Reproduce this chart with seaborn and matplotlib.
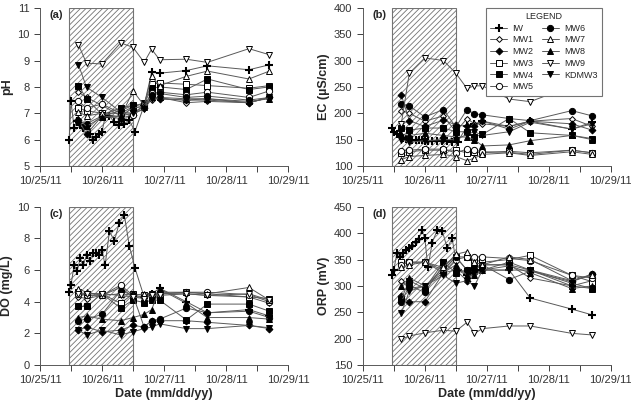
import pandas as pd
import matplotlib
matplotlib.use("Agg")
import matplotlib.pyplot as plt
import matplotlib.dates as mdates
import seaborn as sns

# sampling times in days after 10/25/11 00:00
t_iw = [0.47, 0.50, 0.55, 0.60, 0.65, 0.70, 0.75, 0.80, 0.85, 0.90, 0.95, 1.00, 1.05,
        1.12, 1.20, 1.28, 1.36, 1.44, 1.53, 1.68, 1.80, 1.93, 2.36, 2.70, 3.37, 3.70]
t_mw = [0.62, 0.75, 1.00, 1.30, 1.50, 1.68, 1.80, 1.93, 2.36, 2.70, 3.37, 3.70]

# injection period (hatched box)
inj_start, inj_end = 0.47, 1.50

wells = ["IW", "MW1", "MW2", "MW3", "MW4", "MW5", "MW6", "MW7", "MW8", "MW9", "KDMW3"]

# pH
ph = {
    "IW": [6.0, 7.45, 6.45, 6.7, 6.55, 6.45, 6.5, 6.2, 6.0, 6.1, 6.2, 6.3, 6.85,
           6.9, 6.65, 6.55, 6.6, 6.75, 6.3, 7.3, 8.55, 8.52, 8.62, 8.8, 8.65, 8.84],
    "MW1": [7.8, 7.6, 7.3, 6.9, 7.0, 7.3, 7.5, 7.6, 7.4, 7.45, 7.4, 7.6],
    "MW2": [6.75, 6.2, 6.9, 6.8, 6.95, 7.2, 7.6, 7.55, 7.5, 7.55, 7.4, 7.6],
    "MW3": [7.2, 7.1, 7.0, 7.0, 7.25, 7.4, 8.1, 8.15, 8.1, 8.05, 7.95, 8.05],
    "MW4": [8.05, 7.55, 6.95, 7.2, 7.3, 7.35, 7.95, 8.0, 7.9, 8.3, 7.9, 8.0],
    "MW5": [7.45, 7.2, 7.35, 7.0, 6.95, 7.3, 7.75, 7.8, 7.7, 7.8, 7.6, 7.85],
    "MW6": [6.7, 6.6, 6.9, 7.1, 7.3, 7.25, 7.7, 7.75, 7.6, 7.65, 7.5, 7.6],
    "MW7": [7.05, 6.9, 7.0, 6.85, 7.85, 7.3, 8.4, 8.05, 8.4, 8.6, 8.3, 8.6],
    "MW8": [6.8, 6.5, 6.85, 6.9, 7.2, 7.25, 7.6, 7.6, 7.55, 7.55, 7.45, 7.55],
    "MW9": [9.6, 8.9, 8.87, 9.67, 9.5, 8.93, 9.43, 9.03, 9.05, 8.93, 9.45, 9.22],
    "KDMW3": [8.84, 7.99, 7.6, 7.05, 7.0, 7.15, 7.55, 7.55, 7.5, 7.5, 7.4, 7.6],
}

# EC (uS/cm)
ec = {
    "IW": [172, 165, 160, 156, 153, 152, 151, 150, 150, 149, 149, 148, 148,
           147, 147, 148, 147, 146, 146, 175, 180, 185, 175, 185, 170, 183],
    "MW1": [205, 200, 185, 195, 165, 190, 180, 180, 175, 185, 190, 175],
    "MW2": [235, 186, 175, 187, 178, 175, 175, 185, 170, 185, 180, 168],
    "MW3": [125, 127, 130, 130, 130, 125, 127, 125, 128, 125, 130, 125],
    "MW4": [172, 168, 172, 172, 165, 165, 155, 160, 190, 163, 158, 152],
    "MW5": [128, 130, 132, 132, 125, 132, 130, 127, 126, 122, 130, 125],
    "MW6": [218, 214, 193, 207, 174, 207, 199, 197, 190, 186, 205, 195],
    "MW7": [112, 118, 120, 122, 118, 110, 115, 122, 125, 120, 127, 122],
    "MW8": [160, 158, 162, 158, 155, 155, 150, 138, 140, 148, 158, 150],
    "MW9": [180, 276, 305, 300, 276, 247, 252, 252, 227, 222, 252, 252],
    "KDMW3": [150, 145, 148, 150, 150, 160, 165, 158, 165, 183, 170, 180],
}

# DO (mg/L)
do = {
    "IW": [4.6, 5.05, 6.3, 5.95, 6.75, 6.3, 6.95, 6.6, 7.05, 7.1, 6.95, 7.3, 6.3,
           8.45, 7.85, 9.0, 9.47, 7.55, 6.15, 4.3, 4.5, 4.85, 4.0, 3.3, 3.5, 3.1],
    "MW1": [4.3, 4.2, 4.4, 4.9, 4.3, 4.3, 4.4, 4.5, 4.5, 4.4, 4.3, 3.9],
    "MW2": [2.2, 2.4, 2.1, 2.2, 2.5, 2.4, 2.8, 2.8, 2.8, 2.7, 2.5, 2.3],
    "MW3": [4.6, 4.5, 4.5, 3.9, 4.5, 4.4, 4.5, 4.5, 4.6, 4.5, 4.3, 4.2],
    "MW4": [3.7, 3.7, 4.5, 3.6, 4.1, 3.95, 4.1, 4.1, 2.85, 3.85, 3.85, 3.4],
    "MW5": [4.5, 4.4, 4.4, 5.05, 4.4, 4.3, 4.5, 4.6, 4.6, 4.6, 4.45, 4.0],
    "MW6": [2.8, 2.9, 3.2, 4.7, 4.4, 2.4, 2.8, 2.9, 3.6, 3.3, 3.4, 3.0],
    "MW7": [4.8, 4.6, 4.4, 4.5, 4.4, 4.5, 4.5, 4.5, 4.6, 4.5, 4.9, 4.1],
    "MW8": [3.0, 3.1, 2.9, 2.8, 3.0, 3.2, 3.5, 4.8, 3.9, 3.0, 3.0, 2.9],
    "MW9": [4.5, 4.5, 4.5, 4.4, 4.3, 4.2, 4.4, 4.4, 4.5, 4.4, 4.5, 4.1],
    "KDMW3": [2.2, 1.9, 2.2, 1.9, 2.1, 2.3, 2.4, 2.6, 2.3, 2.3, 2.5, 2.35],
}

# ORP (mV)
orp = {
    "IW": [320, 330, 363, 355, 362, 368, 372, 376, 384, 388, 406, 390, 335,
           382, 406, 405, 372, 390, 330, 320, 325, 330, 330, 277, 256, 245],
    "MW1": [310, 295, 300, 330, 355, 330, 335, 340, 340, 315, 300, 310],
    "MW2": [280, 270, 270, 325, 330, 310, 325, 330, 345, 330, 310, 322],
    "MW3": [345, 345, 345, 330, 355, 355, 350, 345, 350, 358, 320, 308],
    "MW4": [275, 310, 295, 345, 325, 330, 335, 340, 340, 330, 300, 295],
    "MW5": [340, 345, 345, 325, 350, 355, 355, 355, 352, 348, 320, 315],
    "MW6": [270, 300, 288, 340, 355, 330, 330, 340, 312, 328, 308, 322],
    "MW7": [335, 340, 345, 335, 360, 365, 345, 340, 355, 350, 310, 320],
    "MW8": [300, 315, 300, 325, 340, 320, 320, 330, 338, 325, 295, 300],
    "MW9": [199, 205, 211, 216, 214, 231, 210, 219, 224, 224, 210, 207],
    "KDMW3": [248, 290, 300, 320, 305, 310, 300, 330, 330, 330, 305, 295],
}

# marker, face colour, size
styles = {
    "IW": ("+", "k", 6),
    "MW1": ("D", "w", 3),
    "MW2": ("D", "k", 3.5),
    "MW3": ("s", "w", 4.5),
    "MW4": ("s", "k", 4.5),
    "MW5": ("o", "w", 4.5),
    "MW6": ("o", "k", 4.5),
    "MW7": ("^", "w", 4.5),
    "MW8": ("^", "k", 4.5),
    "MW9": ("v", "w", 4.5),
    "KDMW3": ("v", "k", 4.5),
}

base = pd.Timestamp("2011-10-25")


def to_dates(days):
    return base + pd.to_timedelta(days, unit="D")


def make_frame(values):
    rows = []
    for w in wells:
        times = t_iw if w == "IW" else t_mw
        rows.append(pd.DataFrame({"well": w, "date": to_dates(times), "value": values[w]}))
    return pd.concat(rows, ignore_index=True)


sns.set_style("ticks")
plt.rcParams["font.family"] = ["Liberation Sans", "DejaVu Sans"]
plt.rcParams["hatch.linewidth"] = 0.6

fig = plt.figure(figsize=(6.31, 4.0), dpi=100)
boxes = [(0.0634, 0.585), (0.575, 0.585), (0.0634, 0.0875), (0.575, 0.0875)]
panels = [
    (ph, "pH", (5, 11), 1, "(a)"),
    (ec, "EC (\u00b5S/cm)", (100, 400), 50, "(b)"),
    (do, "DO (mg/L)", (0, 10), 2, "(c)"),
    (orp, "ORP (mV)", (150, 450), 50, "(d)"),
]

axes = []
for (x0, y0), (vals, ylab, ylim, step, tag) in zip(boxes, panels):
    ax = fig.add_axes([x0, y0, 0.393, 0.3955])
    axes.append(ax)
    df = make_frame(vals)

    ax.axvspan(to_dates(inj_start), to_dates(inj_end), facecolor="white",
               edgecolor="0.45", hatch="//////", lw=0.8, zorder=0)

    for w in wells:
        m, fc, ms = styles[w]
        sns.lineplot(data=df[df["well"] == w], x="date", y="value", ax=ax,
                     estimator=None, sort=False, color="0.35", lw=0.7,
                     marker=m, markersize=ms, markerfacecolor=fc,
                     markeredgecolor="k", markeredgewidth=1.5 if m == "+" else 0.7,
                     label=w, legend=False, zorder=3)

    ax.set_xlim(to_dates(0), to_dates(4))
    ax.set_ylim(*ylim)
    ax.set_yticks(range(ylim[0], ylim[1] + 1, step))
    ax.xaxis.set_major_locator(mdates.DayLocator())
    ax.xaxis.set_major_formatter(mdates.DateFormatter("%m/%d/%y"))
    ax.xaxis.set_minor_locator(mdates.HourLocator(byhour=[12]))
    ax.tick_params(axis="both", which="both", direction="out", labelsize=8,
                   length=4, width=0.7, colors="0.25", labelcolor="0.2")
    for s in ["left", "bottom"]:
        ax.spines[s].set_linewidth(0.7)
        ax.spines[s].set_color("0.35")
    sns.despine(ax=ax)
    ax.set_ylabel(ylab, fontsize=9, fontweight="bold", labelpad=3)
    ax.set_xlabel("")
    ax.text(0.04, 0.955, tag, transform=ax.transAxes, fontsize=8,
            fontweight="bold", va="center", ha="left")

for ax in axes[2:]:
    ax.set_xlabel("Date (mm/dd/yy)", fontsize=9, fontweight="bold", labelpad=2)

handles, labels = axes[1].get_legend_handles_labels()
leg = axes[1].legend(handles, labels, title="LEGEND", ncol=2, fontsize=6.5,
                     title_fontsize=6.5, loc="upper right",
                     bbox_to_anchor=(0.984, 1.03), fancybox=False,
                     edgecolor="0.45", framealpha=1, handlelength=1.9,
                     handletextpad=0.6, columnspacing=0.9, labelspacing=0.3,
                     borderpad=0.5)
leg.get_frame().set_linewidth(0.8)

fig.savefig("out.png", dpi=100)
